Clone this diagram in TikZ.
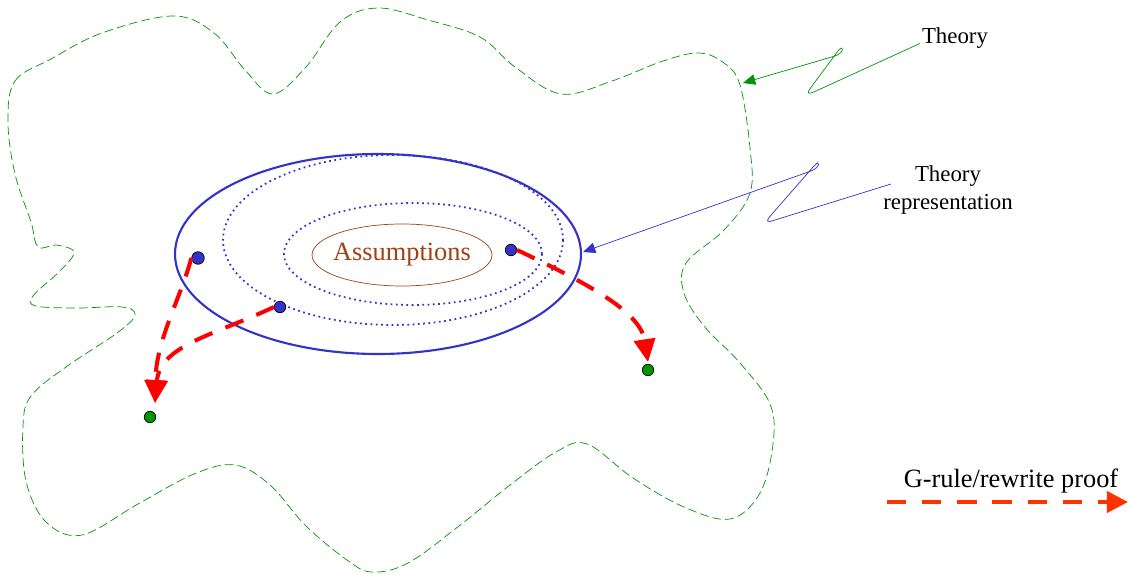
\documentclass[tikz,border=0pt]{standalone}
\usepackage{fontspec}
\setmainfont{Liberation Serif}
\usetikzlibrary{arrows.meta}
\definecolor{thgreen}{RGB}{0,150,0}
\definecolor{repblue}{RGB}{51,51,204}
\definecolor{assbrown}{RGB}{160,64,20}
\definecolor{proofred}{RGB}{255,0,0}
\definecolor{legendred}{RGB}{255,51,0}
\begin{document}
\begin{tikzpicture}[x=0.02cm, y=-0.02cm,
		proof/.style={line width=2.3pt, dash pattern=on 11pt off 8pt, -{Triangle[length=13pt,width=12pt]}},
		bluedot/.style={circle, draw=black, fill=repblue, inner sep=0pt, minimum size=0.23cm},
		greendot/.style={circle, draw=black, fill=thgreen, inner sep=0pt, minimum size=0.23cm},
		pointer/.style={-{Triangle[length=7pt,width=6pt]}}]
	\useasboundingbox (0,0) rectangle (1129,578);
	% the theory
	\draw[thgreen, thin, dash pattern=on 5pt off 2.3pt] plot[smooth cycle, tension=0.6] coordinates {
		(8,122) (15,81) (51,59) (102,33) (173,16) (214,33) (245,70) (273,94) (306,67) (340,22)
		(378,8) (428,20) (480,37) (515,67) (561,94) (612,81) (663,61) (699,53) (724,63) (740,85)
		(750,148) (750,193) (724,230) (686,263) (684,293) (704,326) (740,363) (770,404) (773,444)
		(760,493) (730,519) (684,507) (633,478) (587,444) (556,452) (510,485) (459,526) (408,563)
		(372,572) (347,560) (306,526) (270,485) (235,465) (194,474) (138,504) (82,535) (46,522)
		(26,481) (23,426) (31,396) (66,367) (117,333) (135,315) (122,307) (77,308) (36,306)
		(33,296) (61,270) (74,252) (56,245) (38,247) (31,222) (15,174)};
	% representation
	\draw[repblue, line width=1.2pt] (378,254) ellipse [x radius=203, y radius=100];
	\draw[repblue, line width=1pt, dotted] (393,240) ellipse [x radius=170, y radius=85];
	\draw[repblue, line width=1pt, dotted] (413,254) ellipse [x radius=129, y radius=51];
	\node[text=assbrown, font=\fontsize{15}{18}\selectfont] (assum) at (402,255) {Assumptions};
	\draw[assbrown] (assum.center) ellipse [x radius=90, y radius=31];
	\node[bluedot, minimum width=0.25cm, minimum height=0.2cm] (a1) at (198,258) {};
	\node[bluedot] (a2) at (280,307) {};
	\node[bluedot] (a3) at (511,250) {};
	\node[greendot] (g1) at (150,417) {};
	\node[greendot] (g2) at (648,370) {};
	\coordinate (t1) at (155,403);
	\coordinate (t2) at (648,362);
	% proofs
	\draw[proof, proofred] (a1.west) .. controls (180,300) and (156,340) .. (t1);
	\draw[proof, proofred] (a2.west) .. controls (215,335) and (160,345) .. (t1);
	\draw[proof, proofred] (a3.east) .. controls (580,280) and (640,310) .. (t2);
	% labels
	\node[font=\fontsize{13}{15}\selectfont, inner sep=1pt] (theory) at (955,38) {Theory};
	\node[font=\fontsize{13}{15.5}\selectfont, align=center] (rep) at (948,190) {Theory\\representation};
	\coordinate (rep-in) at (891,184);
	\draw[pointer, thgreen] (theory.base west) -- (816,91) .. controls (806.9,95.1) and (805.9,93.9) .. (812,86)
		-- (838,51) .. controls (844.1,43.1) and (844.6,53.2) .. (835,56) -- (743,83);
	\draw[pointer, repblue] (rep-in) -- (775,220) .. controls (765.5,223.1) and (765.4,221.5) .. (772,214)
		-- (814,166) .. controls (820.6,158.5) and (820.4,167.7) .. (811,171) -- (583,252);
	% legend
	\node[font=\fontsize{15}{18}\selectfont] (legend) at (1011,481) {G-rule/rewrite proof};
	\coordinate (leg-a) at (887,502);
	\coordinate (leg-b) at (1128,502);
	\draw[legendred, line width=2.3pt, dash pattern=on 11pt off 9pt, -{Triangle[length=12pt,width=12pt]}] (leg-a) -- (leg-b);
\end{tikzpicture}
\end{document}
